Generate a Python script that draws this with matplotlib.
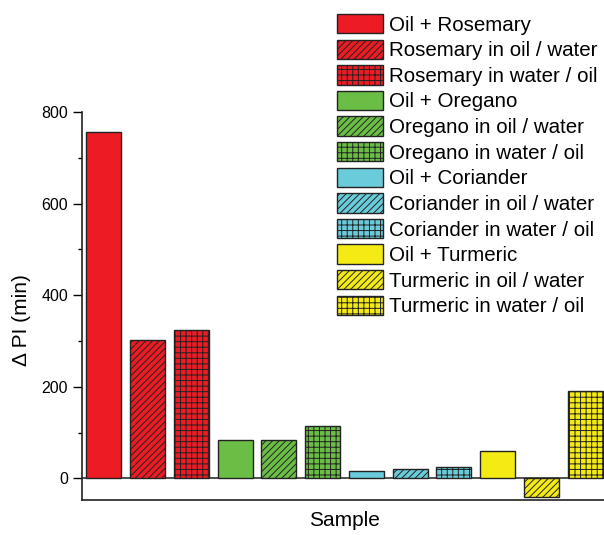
import numpy as np
import matplotlib.pyplot as plt

plt.rcParams['font.family'] = ['Liberation Sans', 'DejaVu Sans']
plt.rcParams['hatch.linewidth'] = 0.7

# Delta PI per sample
labels = ['Oil + Rosemary', 'Rosemary in oil / water', 'Rosemary in water / oil',
          'Oil + Oregano', 'Oregano in oil / water', 'Oregano in water / oil',
          'Oil + Coriander', 'Coriander in oil / water', 'Coriander in water / oil',
          'Oil + Turmeric', 'Turmeric in oil / water', 'Turmeric in water / oil']
delta_pi = [756, 302, 324, 83, 83, 115, 17, 21, 25, 60, -41, 192]

spice_colors = ['#ED1C24', '#6BBE45', '#6ACBDB', '#F5EB14']
hatches = ['', '/////', '+++']

fig = plt.figure(figsize=(6.04, 5.35), dpi=100)
ax = fig.add_axes([82/604, 35/535, 525/604, 388/535])

x = np.arange(1, len(delta_pi) + 1)
for i, (xi, val, lab) in enumerate(zip(x, delta_pi, labels)):
    ax.bar(xi, val, width=0.8, color=spice_colors[i // 3], hatch=hatches[i % 3],
           edgecolor='#222222', linewidth=1.0, label=lab)

ax.axhline(0, color='#333333', linewidth=1.2, zorder=0.5)

ax.set_xlim(0.5, 12.5)
ax.set_ylim(-47, 800)
ax.set_yticks([0, 200, 400, 600, 800])
ax.set_yticks([100, 300, 500, 700], minor=True)
ax.set_xticks([])
ax.tick_params(axis='y', which='major', length=6.5, width=1, labelsize=11.5, direction='out')
ax.tick_params(axis='y', which='minor', length=3, width=1)
for s in ['top', 'right']:
    ax.spines[s].set_visible(False)
for s in ['left', 'bottom']:
    ax.spines[s].set_linewidth(1.2)
    ax.spines[s].set_color('#222222')

ax.set_ylabel('Δ PI (min)', fontsize=15)
ax.yaxis.set_label_coords(-0.097, 0.463)
ax.set_xlabel('Sample', fontsize=15, labelpad=8)

leg = ax.legend(loc='upper left', bbox_to_anchor=(337/604, 1 - 14/535), bbox_transform=fig.transFigure,
                frameon=False, fontsize=14.8, handlelength=2.23, handleheight=1.07,
                handletextpad=0.3, labelspacing=0.24, borderpad=0, borderaxespad=0)

fig.savefig('out.png', dpi=100)
